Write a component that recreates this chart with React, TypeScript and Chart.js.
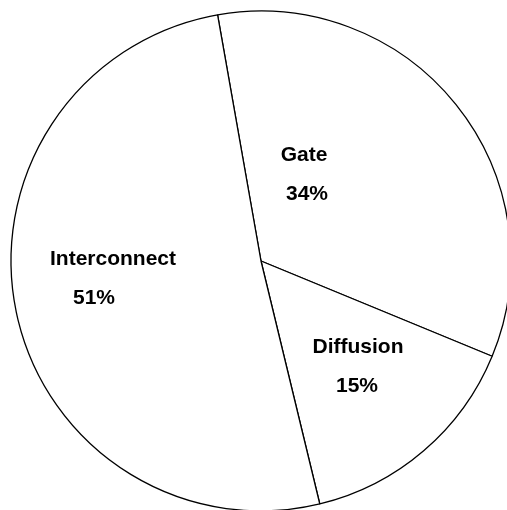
import React, { useEffect, useRef } from "react";
import { Chart, registerables } from "chart.js";

Chart.register(...registerables);

// Share of total power by component
const categories = ["Gate", "Diffusion", "Interconnect"];
const shares = [34, 15, 51];

// Label anchors relative to the pie centre, in units of the outer radius:
// [nameX, nameY, percentX, percentY]
const labelAnchors: number[][] = [
  [0.172, -0.424, 0.184, -0.268],
  [0.388, 0.344, 0.384, 0.5],
  [-0.592, -0.008, -0.668, 0.148],
];

const sliceLabels = {
  id: "sliceLabels",
  afterDatasetsDraw(chart: Chart) {
    const meta = chart.getDatasetMeta(0);
    const values = chart.data.datasets[0].data as number[];
    const names = chart.data.labels as string[];
    const ctx = chart.ctx;
    ctx.save();
    ctx.fillStyle = "#000";
    ctx.font = "bold 21px 'Liberation Sans', Arial, sans-serif";
    ctx.textAlign = "center";
    ctx.textBaseline = "middle";
    meta.data.forEach((el: any, i: number) => {
      const { x, y, outerRadius } = el.getProps(["x", "y", "outerRadius"], true);
      const a = labelAnchors[i];
      ctx.fillText(names[i], x + a[0] * outerRadius, y + a[1] * outerRadius);
      ctx.fillText(`${values[i]}%`, x + a[2] * outerRadius, y + a[3] * outerRadius);
    });
    ctx.restore();
  },
};

export default function App() {
  const canvasRef = useRef<HTMLCanvasElement | null>(null);

  useEffect(() => {
    if (!canvasRef.current) return;
    const chart = new Chart(canvasRef.current, {
      type: "pie",
      data: {
        labels: categories,
        datasets: [
          {
            data: shares,
            backgroundColor: "#ffffff",
            borderColor: "#000000",
            borderWidth: 1.3,
          },
        ],
      },
      options: {
        responsive: false,
        animation: false,
        rotation: -10,
        radius: 250,
        layout: { padding: 11 },
        plugins: {
          legend: { display: false },
          tooltip: { enabled: false },
        },
      },
      plugins: [sliceLabels],
    });
    return () => chart.destroy();
  }, []);

  return (
    <div
      style={{
        position: "fixed",
        left: 0,
        top: 0,
        width: 507,
        height: 510,
        overflow: "hidden",
        background: "#ffffff",
      }}
    >
      <canvas ref={canvasRef} width={522} height={522} style={{ display: "block" }} />
    </div>
  );
}
